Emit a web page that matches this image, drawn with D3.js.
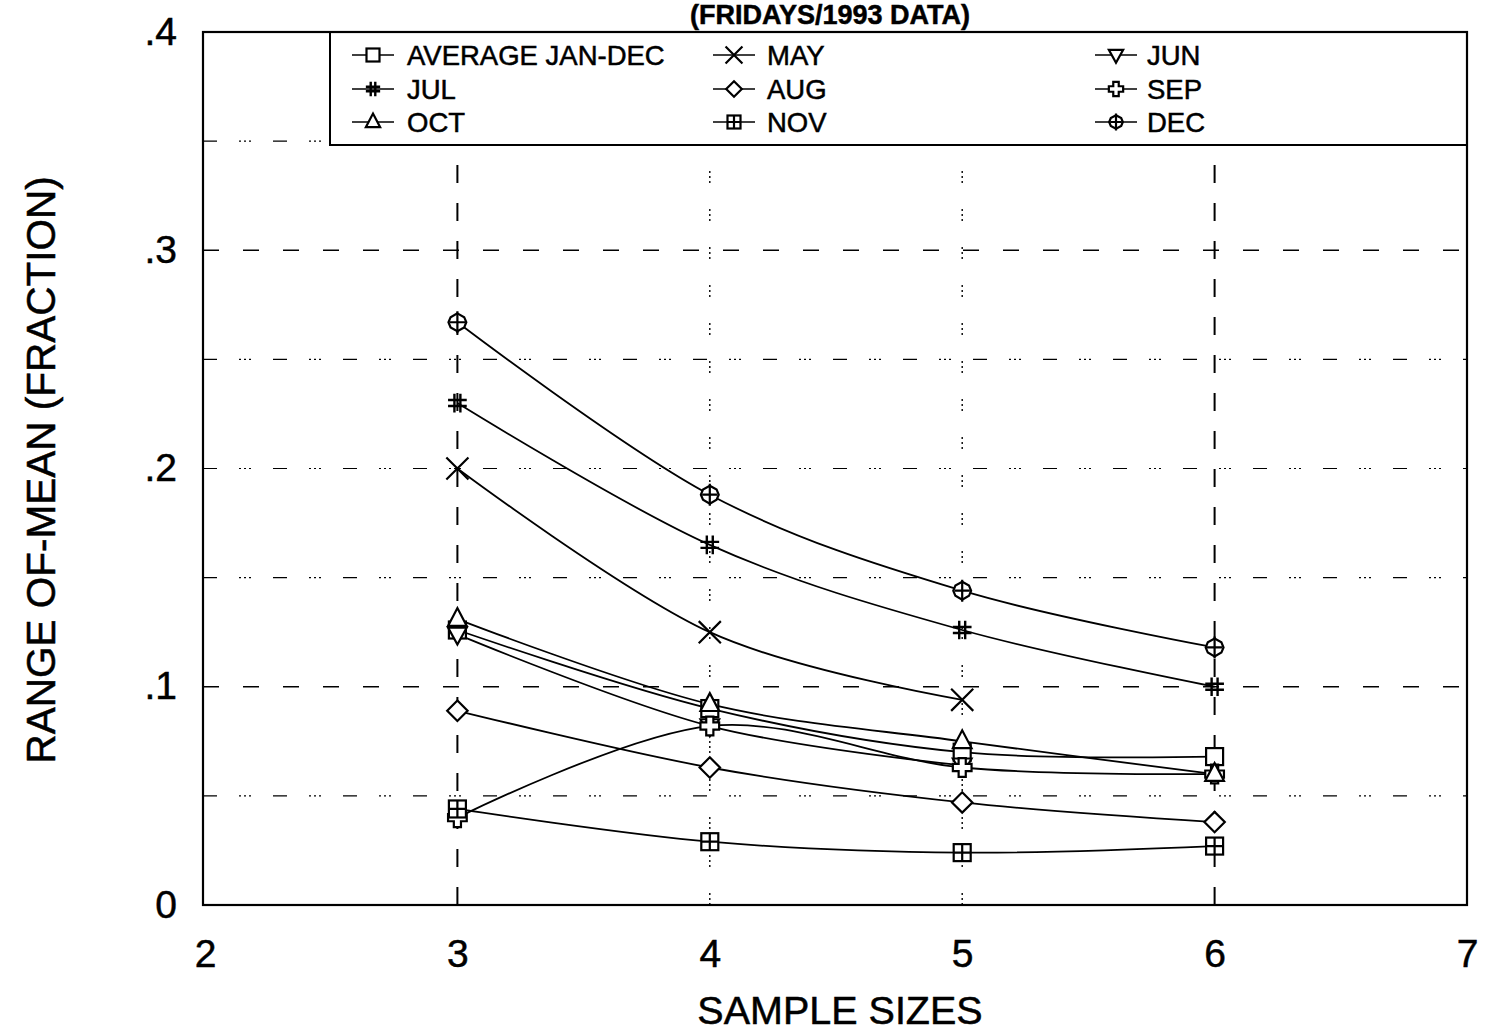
<!DOCTYPE html>
<html>
<head>
<meta charset="utf-8">
<script src="https://cdn.jsdelivr.net/npm/d3@7"></script>
<style>
  html, body { margin: 0; padding: 0; background: #fff; }
  svg { display: block; font-family: "Liberation Sans", Arial, Helvetica, sans-serif; }
  svg text { stroke: #000; stroke-width: 0.5px; fill: #000; }
</style>
</head>
<body>
<svg id="chart" width="1487" height="1035"></svg>
<script>
// Sample sizes on the x axis
const sampleSizes = [3, 4, 5, 6];

// Range-of-mean (fraction) for each series, by sample size
const avgJanDec = [0.126, 0.090, 0.070, 0.068];
const may       = [0.200, 0.125, 0.094];
const jun       = [0.124, 0.082, 0.064];
const jul       = [0.230, 0.165, 0.126, 0.100];
const aug       = [0.089, 0.063, 0.047, 0.038];
const sep       = [0.040, 0.082, 0.063, 0.060];
const oct       = [0.131, 0.092, 0.075, 0.060];
const nov       = [0.044, 0.029, 0.024, 0.027];
const dec       = [0.267, 0.188, 0.144, 0.118];

const seriesNames = ["AVERAGE JAN-DEC", "MAY", "JUN", "JUL", "AUG", "SEP", "OCT", "NOV", "DEC"];
const seriesValues = [avgJanDec, may, jun, jul, aug, sep, oct, nov, dec];
const seriesSymbols = ["square", "x", "triDown", "hash", "diamond", "cross", "triUp", "gridSquare", "circlePlus"];

// Axis ticks
const xTicks = [2, 3, 4, 5, 6, 7];
const yTicks = [0, 0.1, 0.2, 0.3, 0.4];
const yTickLabels = ["0", ".1", ".2", ".3", ".4"];
const yGrid = [0.05, 0.1, 0.15, 0.2, 0.25, 0.3, 0.35];
const yGridMajor = [0.1, 0.3];
const xGridMajor = [3, 6];

const chartTitle = "(FRIDAYS/1993 DATA)";
const xTitle = "SAMPLE SIZES";
const yTitle = "RANGE OF-MEAN (FRACTION)";

const svg = d3.select("#chart");
const plotLeft = 205, plotRight = 1467, plotTop = 32, plotBottom = 905;

const x = d3.scaleLinear().domain([2, 7]).range([plotLeft, plotRight]);
const y = d3.scaleLinear().domain([0, 0.4]).range([plotBottom, plotTop]);

// Title above the frame
svg.append("text")
  .attr("x", 830).attr("y", 24)
  .attr("text-anchor", "middle")
  .attr("font-size", 27).attr("font-weight", "bold")
  .text(chartTitle);

// Grid
const grid = svg.append("g").attr("stroke", "#000").attr("fill", "none");
grid.selectAll("line.h").data(yGrid).join("line")
  .attr("x1", plotLeft - 2).attr("x2", plotRight)
  .attr("y1", d => y(d)).attr("y2", d => y(d))
  .attr("stroke-width", d => yGridMajor.includes(d) ? 1.6 : 1.2)
  .attr("stroke-dasharray", d => yGridMajor.includes(d) ? "16,24" : "14,22,2,3,2,3,2,22");
grid.selectAll("line.v").data(sampleSizes).join("line")
  .attr("x1", d => x(d)).attr("x2", d => x(d))
  .attr("y1", plotBottom).attr("y2", plotTop)
  .attr("stroke-width", d => xGridMajor.includes(d) ? 2 : 1.4)
  .attr("stroke-dasharray", d => xGridMajor.includes(d) ? "18,20" : "2,3,2,3,2,26");

// Legend box covering the upper grid
const lgLeft = 330, lgBottom = 145;
svg.append("rect")
  .attr("x", lgLeft).attr("y", plotTop)
  .attr("width", plotRight - lgLeft).attr("height", lgBottom - plotTop)
  .attr("fill", "#fff").attr("stroke", "#000").attr("stroke-width", 2);

// Marker drawing
function drawSymbol(g, type, s) {
  const sw = 2.2;
  const add = (tag) => g.append(tag).attr("fill", "#fff").attr("stroke", "#000").attr("stroke-width", sw);
  const h = s / 2;
  switch (type) {
    case "square":
      add("rect").attr("x", -h).attr("y", -h).attr("width", s).attr("height", s); break;
    case "x":
      add("path").attr("fill", "none").attr("d", `M${-h * 1.3},${-h * 1.3}L${h * 1.3},${h * 1.3}M${-h * 1.3},${h * 1.3}L${h * 1.3},${-h * 1.3}`); break;
    case "triDown":
      add("path").attr("d", `M${-h * 1.1},${-h * 0.8}L${h * 1.1},${-h * 0.8}L0,${h * 1.2}Z`); break;
    case "triUp":
      add("path").attr("d", `M${-h * 1.1},${h * 0.8}L${h * 1.1},${h * 0.8}L0,${-h * 1.3}Z`); break;
    case "hash": {
      const a = h * 0.35;
      add("path").attr("fill", "none").attr("stroke-width", 2.4)
        .attr("d", `M${-a},${-h * 1.1}L${-a},${h * 1.1}M${a},${-h * 1.1}L${a},${h * 1.1}M${-h * 1.1},${-a}L${h * 1.1},${-a}M${-h * 1.1},${a}L${h * 1.1},${a}`);
      break;
    }
    case "diamond":
      add("path").attr("d", `M0,${-h * 1.2}L${h * 1.2},0L0,${h * 1.2}L${-h * 1.2},0Z`); break;
    case "cross": {
      const a = h * 0.42, b = h * 1.1;
      add("path").attr("d", `M${-a},${-b}L${a},${-b}L${a},${-a}L${b},${-a}L${b},${a}L${a},${a}L${a},${b}L${-a},${b}L${-a},${a}L${-b},${a}L${-b},${-a}L${-a},${-a}Z`);
      break;
    }
    case "gridSquare":
      add("rect").attr("x", -h).attr("y", -h).attr("width", s).attr("height", s);
      add("path").attr("fill", "none").attr("d", `M0,${-h}L0,${h}M${-h},0L${h},0`);
      break;
    case "circlePlus":
      add("path").attr("d", `M0,${-h * 1.05}L${h * 0.8},${-h * 0.6}L${h * 1.05},0L${h * 0.8},${h * 0.6}L0,${h * 1.05}L${-h * 0.8},${h * 0.6}L${-h * 1.05},0L${-h * 0.8},${-h * 0.6}Z`);
      add("path").attr("fill", "none").attr("d", `M0,${-h * 1.3}L0,${h * 1.3}M${-h * 0.9},0L${h * 0.9},0`);
      break;
  }
}

// Series lines
const line = d3.line()
  .x((d, i) => x(sampleSizes[i]))
  .y(d => y(d))
  .curve(d3.curveCardinal.tension(0));

const plot = svg.append("g");
seriesValues.forEach((vals) => {
  plot.append("path")
    .attr("d", line(vals))
    .attr("fill", "none").attr("stroke", "#000").attr("stroke-width", 1.8);
});

// Series markers
seriesValues.forEach((vals, si) => {
  vals.forEach((v, i) => {
    const g = plot.append("g").attr("transform", `translate(${x(sampleSizes[i])},${y(v)})`);
    drawSymbol(g, seriesSymbols[si], 17);
  });
});

// Legend entries
const legendCols = [352, 713, 1095];
const legendText = [407, 767, 1147];
const legendRows = [55, 89, 122];
seriesNames.forEach((name, i) => {
  const col = i % 3, row = Math.floor(i / 3);
  const cy = legendRows[row];
  const lx = legendCols[col];
  const g = svg.append("g");
  g.append("line").attr("x1", lx).attr("x2", lx + 42).attr("y1", cy).attr("y2", cy)
    .attr("stroke", "#000").attr("stroke-width", 1.6);
  const sg = g.append("g").attr("transform", `translate(${lx + 21},${cy})`);
  drawSymbol(sg, seriesSymbols[i], 13);
  g.append("text").attr("x", legendText[col]).attr("y", cy + 10)
    .attr("font-size", 27.5).text(name);
});

// Frame
svg.append("rect")
  .attr("x", plotLeft - 2).attr("y", plotTop)
  .attr("width", plotRight - plotLeft + 2).attr("height", plotBottom - plotTop)
  .attr("fill", "none").attr("stroke", "#000").attr("stroke-width", 2.2);

// Axes tick labels
const xAxis = d3.axisBottom(x).tickValues(xTicks).tickSize(0).tickPadding(0).tickFormat(d3.format("d"));
svg.append("g").attr("transform", `translate(0,${plotBottom})`).call(xAxis)
  .call(g => g.select(".domain").remove())
  .call(g => g.selectAll("text").attr("dy", null).attr("y", 62)
    .attr("font-size", 39).attr("fill", "#000")
    .attr("font-family", "'Liberation Sans', Arial, sans-serif"));

const yAxis = d3.axisLeft(y).tickValues(yTicks).tickSize(0).tickPadding(0)
  .tickFormat((d, i) => yTickLabels[i]);
svg.append("g").attr("transform", `translate(${plotLeft - 28},0)`).call(yAxis)
  .call(g => g.select(".domain").remove())
  .call(g => g.selectAll("text").attr("dy", null).attr("y", 12)
    .attr("font-size", 39).attr("fill", "#000")
    .attr("font-family", "'Liberation Sans', Arial, sans-serif"));

// Axis titles
svg.append("text").attr("x", 840).attr("y", 1024)
  .attr("text-anchor", "middle").attr("font-size", 39.5).text(xTitle);
svg.append("text")
  .attr("transform", `translate(55,470) rotate(-90)`)
  .attr("text-anchor", "middle").attr("font-size", 40.5).text(yTitle);
</script>
</body>
</html>
